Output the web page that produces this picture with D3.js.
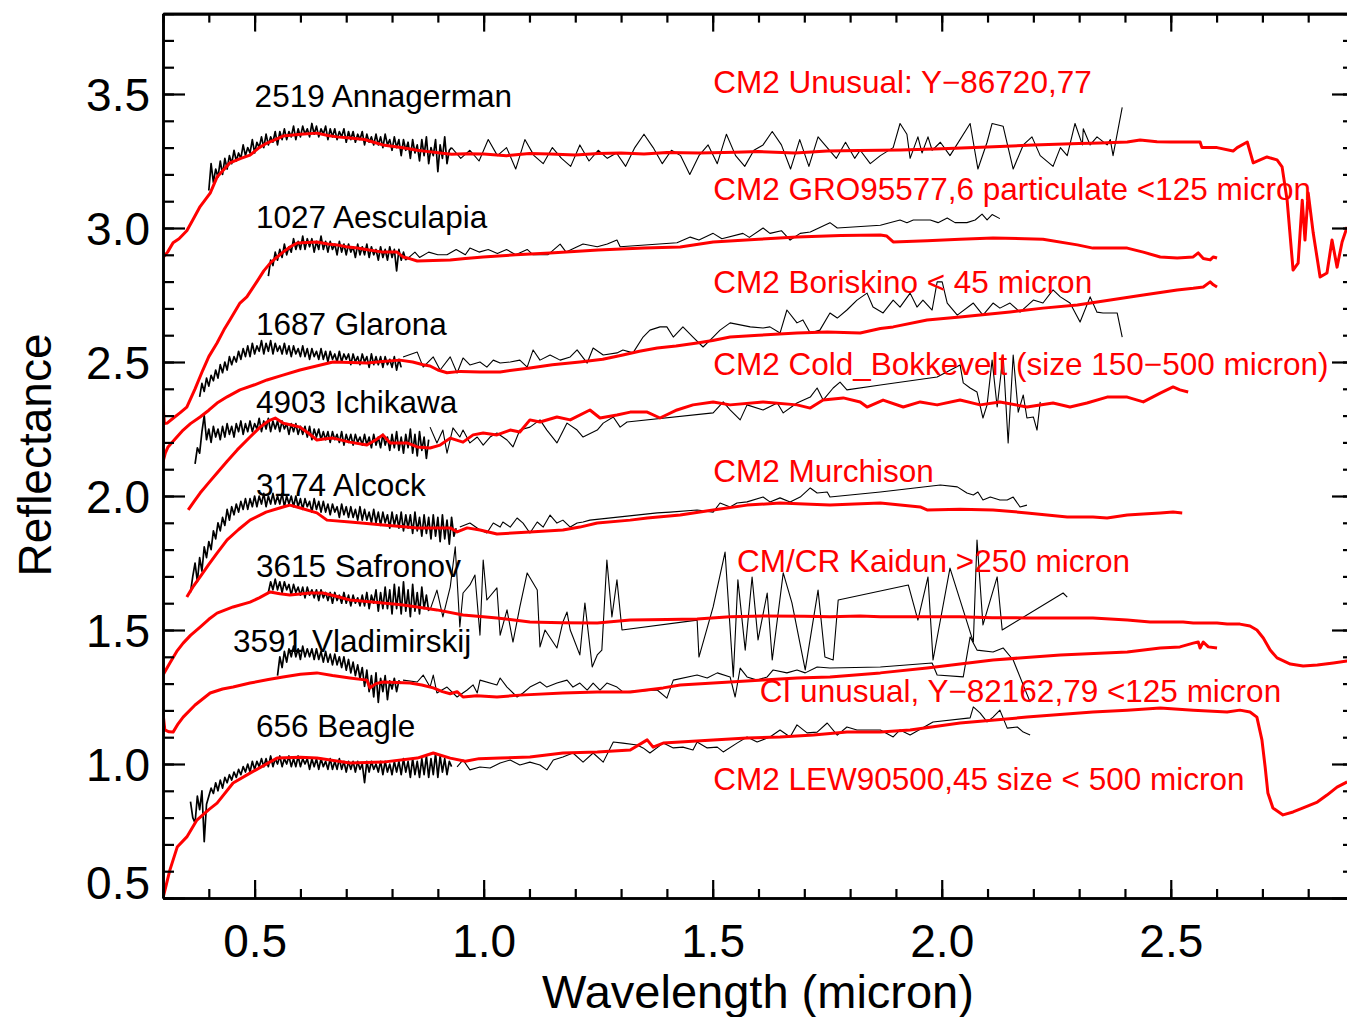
<!DOCTYPE html>
<html>

<head>
    <meta charset="UTF-8">
    <title>Asteroid and meteorite reflectance spectra</title>
    <style>
        body { margin: 0; background: #fff; }
        text { font-family: "Liberation Sans", Arial, Helvetica, sans-serif; }
    </style>
</head>

<body>
    <script src="https://d3js.org/d3.v7.min.js"></script>

    <svg width="1347" height="1017"></svg>

    <script>
        // ---- asteroid spectra (black) ----
        // visible part sampled every 0.005 micron from its start wavelength,
        // infrared part as [wavelength, reflectance] pairs
        const visStep = 0.005;

        const annagermanVisStart = 0.40;
        const annagermanVis = [3.14, 3.24, 3.17, 3.22, 3.19, 3.25, 3.20, 3.26, 3.22, 3.27, 3.24, 3.29, 3.25, 3.28, 3.26, 3.31, 3.27, 3.30, 3.28, 3.33,
            3.28, 3.32, 3.30, 3.34, 3.30, 3.35, 3.31, 3.34, 3.32, 3.36, 3.31, 3.36, 3.33, 3.37, 3.33, 3.36, 3.34, 3.38, 3.33, 3.37,
            3.34, 3.38, 3.35, 3.37, 3.34, 3.39, 3.35, 3.38, 3.34, 3.37, 3.35, 3.38, 3.33, 3.37, 3.34, 3.37, 3.33, 3.36, 3.34, 3.37,
            3.32, 3.36, 3.33, 3.36, 3.32, 3.35, 3.33, 3.36, 3.31, 3.35, 3.32, 3.34, 3.31, 3.35, 3.31, 3.34, 3.30, 3.35, 3.31, 3.33,
            3.29, 3.34, 3.30, 3.33, 3.27, 3.33, 3.29, 3.32, 3.26, 3.33, 3.28, 3.31, 3.25, 3.33, 3.27, 3.34, 3.24, 3.30, 3.27, 3.33,
            3.21, 3.31, 3.26, 3.34, 3.24, 3.29, 3.30];
        const annagermanIR = [[0.93, 3.30], [0.95, 3.26], [0.97, 3.29], [0.99, 3.25], [1.01, 3.33], [1.03, 3.27], [1.05, 3.30], [1.07, 3.22],
            [1.09, 3.33], [1.11, 3.27], [1.13, 3.24], [1.15, 3.30], [1.17, 3.26], [1.19, 3.23], [1.21, 3.31], [1.23, 3.25], [1.25, 3.29],
            [1.27, 3.26], [1.29, 3.28], [1.31, 3.23], [1.33, 3.30], [1.35, 3.35], [1.37, 3.30], [1.39, 3.24], [1.41, 3.29], [1.43, 3.27],
            [1.45, 3.20], [1.47, 3.27], [1.49, 3.31], [1.51, 3.24], [1.53, 3.35], [1.55, 3.27], [1.57, 3.23], [1.59, 3.29], [1.61, 3.31],
            [1.63, 3.36], [1.65, 3.31], [1.67, 3.22], [1.69, 3.33], [1.71, 3.23], [1.73, 3.34], [1.75, 3.30], [1.77, 3.26], [1.79, 3.32],
            [1.81, 3.26], [1.822, 3.29], [1.844, 3.24], [1.866, 3.27], [1.894, 3.30], [1.909, 3.39], [1.924, 3.35], [1.931, 3.26],
            [1.948, 3.34], [1.957, 3.28], [1.970, 3.34], [1.979, 3.29], [1.997, 3.32], [2.018, 3.27], [2.062, 3.39], [2.079, 3.22],
            [2.099, 3.32], [2.110, 3.39], [2.134, 3.38], [2.156, 3.22], [2.178, 3.31], [2.197, 3.34], [2.215, 3.27], [2.243, 3.23],
            [2.259, 3.30], [2.274, 3.27], [2.291, 3.39], [2.307, 3.31], [2.309, 3.37], [2.324, 3.31], [2.339, 3.34], [2.361, 3.31],
            [2.368, 3.33], [2.374, 3.27], [2.394, 3.45]];

        const aesculapiaVisStart = 0.53;
        const aesculapiaVis = [2.82, 2.88, 2.86, 2.91, 2.88, 2.92, 2.89, 2.94, 2.90, 2.93, 2.91, 2.96, 2.92, 2.95, 2.92, 2.97, 2.92, 2.96, 2.93, 2.96,
            2.91, 2.95, 2.92, 2.97, 2.92, 2.95, 2.91, 2.95, 2.92, 2.94, 2.90, 2.95, 2.91, 2.94, 2.90, 2.94, 2.91, 2.93, 2.89, 2.94,
            2.90, 2.93, 2.90, 2.94, 2.89, 2.93, 2.90, 2.92, 2.88, 2.93, 2.89, 2.92, 2.88, 2.93, 2.89, 2.92, 2.84, 2.92, 2.88, 2.91,
            2.88];
        const aesculapiaIR = [[0.83, 2.88], [0.85, 2.91], [0.86, 2.89], [0.88, 2.91], [0.90, 2.90], [0.92, 2.90], [0.94, 2.92], [0.96, 2.90],
            [0.97, 2.925], [0.99, 2.91], [1.01, 2.92], [1.03, 2.905], [1.05, 2.92], [1.07, 2.90], [1.095, 2.92], [1.108, 2.90], [1.14, 2.90],
            [1.167, 2.94], [1.18, 2.91], [1.217, 2.94], [1.248, 2.93], [1.27, 2.94], [1.291, 2.955], [1.298, 2.93], [1.422, 2.945],
            [1.451, 2.966], [1.47, 2.955], [1.501, 2.98], [1.52, 2.96], [1.566, 2.98], [1.58, 2.965], [1.61, 3.0], [1.625, 2.98],
            [1.65, 2.99], [1.669, 2.955], [1.691, 2.98], [1.713, 2.985], [1.756, 3.02], [1.772, 3.0], [1.866, 3.01], [1.909, 3.03],
            [1.924, 3.02], [1.938, 3.03], [1.975, 3.03], [1.992, 3.02], [2.012, 3.037], [2.029, 3.02], [2.055, 3.02], [2.073, 3.03],
            [2.088, 3.052], [2.099, 3.03], [2.110, 3.05], [2.127, 3.035]];

        const glaronaVisStart = 0.38;
        const glaronaVis = [2.37, 2.42, 2.39, 2.44, 2.41, 2.45, 2.43, 2.47, 2.44, 2.49, 2.46, 2.50, 2.47, 2.52, 2.49, 2.52, 2.50, 2.54, 2.51, 2.55,
            2.52, 2.56, 2.52, 2.57, 2.53, 2.56, 2.54, 2.58, 2.53, 2.57, 2.54, 2.58, 2.53, 2.57, 2.54, 2.56, 2.53, 2.57, 2.53, 2.56,
            2.52, 2.56, 2.53, 2.55, 2.52, 2.56, 2.52, 2.55, 2.51, 2.55, 2.52, 2.54, 2.51, 2.55, 2.51, 2.54, 2.50, 2.54, 2.51, 2.53,
            2.50, 2.54, 2.50, 2.53, 2.51, 2.53, 2.49, 2.53, 2.50, 2.52, 2.49, 2.53, 2.50, 2.52, 2.48, 2.53, 2.49, 2.52, 2.49, 2.52,
            2.48, 2.52, 2.49, 2.51, 2.48, 2.52, 2.47, 2.51, 2.48];
        const glaronaIR = [[0.824, 2.519], [0.855, 2.537], [0.868, 2.481], [0.890, 2.519], [0.905, 2.470], [0.927, 2.519], [0.942, 2.459],
            [0.955, 2.515], [0.970, 2.489], [0.992, 2.500], [1.007, 2.481], [1.021, 2.507], [1.036, 2.496], [1.058, 2.500], [1.079, 2.507],
            [1.095, 2.481], [1.108, 2.545], [1.123, 2.507], [1.145, 2.526], [1.167, 2.507], [1.189, 2.519], [1.204, 2.545], [1.226, 2.496],
            [1.239, 2.552], [1.261, 2.526], [1.291, 2.534], [1.304, 2.545], [1.326, 2.534], [1.348, 2.593], [1.363, 2.619], [1.385, 2.631],
            [1.400, 2.631], [1.414, 2.593], [1.435, 2.631], [1.457, 2.593], [1.479, 2.556], [1.501, 2.593], [1.516, 2.619], [1.538, 2.646],
            [1.582, 2.631], [1.610, 2.627], [1.625, 2.631], [1.647, 2.608], [1.662, 2.694], [1.684, 2.646], [1.697, 2.657], [1.713, 2.608],
            [1.734, 2.619], [1.756, 2.683], [1.772, 2.664], [1.793, 2.694], [1.815, 2.731], [1.837, 2.757], [1.850, 2.705], [1.872, 2.683],
            [1.894, 2.731], [1.909, 2.705], [1.931, 2.757], [1.946, 2.705], [1.959, 2.731], [1.979, 2.694], [1.990, 2.799], [2.001, 2.799],
            [2.012, 2.720], [2.034, 2.675], [2.069, 2.720], [2.090, 2.675], [2.112, 2.720], [2.127, 2.701], [2.149, 2.720], [2.171, 2.686],
            [2.200, 2.731], [2.221, 2.720], [2.243, 2.769], [2.259, 2.743], [2.280, 2.720], [2.302, 2.649], [2.324, 2.743], [2.339, 2.686],
            [2.352, 2.683], [2.383, 2.683], [2.394, 2.593]];

        const ichikawaVisStart = 0.37;
        const ichikawaVis = [2.12, 2.18, 2.16, 2.24, 2.30, 2.21, 2.25, 2.20, 2.26, 2.22, 2.25, 2.21, 2.26, 2.22, 2.27, 2.23, 2.26, 2.22, 2.27, 2.24,
            2.28, 2.23, 2.27, 2.24, 2.28, 2.24, 2.27, 2.25, 2.29, 2.24, 2.28, 2.25, 2.29, 2.24, 2.28, 2.25, 2.28, 2.24, 2.28, 2.25,
            2.27, 2.23, 2.27, 2.24, 2.27, 2.23, 2.26, 2.23, 2.26, 2.22, 2.26, 2.21, 2.25, 2.22, 2.25, 2.21, 2.24, 2.21, 2.24, 2.20,
            2.24, 2.21, 2.23, 2.20, 2.24, 2.19, 2.23, 2.20, 2.23, 2.19, 2.23, 2.20, 2.22, 2.19, 2.23, 2.19, 2.22, 2.18, 2.23, 2.19,
            2.22, 2.18, 2.23, 2.19, 2.22, 2.17, 2.23, 2.18, 2.24, 2.17, 2.22, 2.16, 2.23, 2.18, 2.25, 2.16, 2.23, 2.15, 2.24, 2.17,
            2.22, 2.14, 2.21];
        const ichikawaIR = [[0.883, 2.257], [0.898, 2.198], [0.911, 2.246], [0.920, 2.160], [0.933, 2.254], [0.948, 2.220], [0.955, 2.246],
            [0.970, 2.198], [0.986, 2.220], [0.999, 2.190], [1.014, 2.220], [1.029, 2.235], [1.051, 2.209], [1.064, 2.183], [1.079, 2.246],
            [1.101, 2.257], [1.123, 2.284], [1.138, 2.246], [1.160, 2.198], [1.182, 2.272], [1.204, 2.246], [1.217, 2.220], [1.248, 2.246],
            [1.261, 2.272], [1.283, 2.295], [1.298, 2.257], [1.313, 2.276], [1.501, 2.310], [1.523, 2.351], [1.538, 2.321], [1.560, 2.284],
            [1.575, 2.340], [1.610, 2.321], [1.641, 2.347], [1.654, 2.310], [1.684, 2.347], [1.713, 2.369], [1.728, 2.403], [1.741, 2.358],
            [1.763, 2.403], [1.778, 2.425], [1.793, 2.396], [1.866, 2.414], [1.990, 2.444], [2.040, 2.489], [2.047, 2.422], [2.062, 2.403],
            [2.077, 2.388], [2.090, 2.291], [2.099, 2.340], [2.110, 2.507], [2.121, 2.332], [2.134, 2.526], [2.145, 2.198], [2.156, 2.526],
            [2.167, 2.313], [2.178, 2.377], [2.186, 2.291], [2.200, 2.295], [2.208, 2.246], [2.215, 2.351]];

        const alcockVisStart = 0.36;
        const alcockVis = [1.64, 1.70, 1.75, 1.68, 1.77, 1.72, 1.81, 1.77, 1.83, 1.80, 1.87, 1.84, 1.90, 1.87, 1.92, 1.89, 1.95, 1.91, 1.96, 1.93,
            1.97, 1.94, 1.98, 1.95, 1.99, 1.95, 1.99, 1.96, 2.00, 1.96, 2.00, 1.97, 2.01, 1.96, 2.00, 1.97, 2.01, 1.97, 2.00, 1.97,
            2.01, 1.96, 2.00, 1.97, 2.00, 1.96, 2.00, 1.96, 1.99, 1.95, 1.99, 1.96, 1.98, 1.94, 1.99, 1.95, 1.98, 1.94, 1.98, 1.94,
            1.97, 1.93, 1.97, 1.94, 1.96, 1.92, 1.97, 1.93, 1.96, 1.92, 1.96, 1.92, 1.95, 1.91, 1.96, 1.91, 1.95, 1.91, 1.94, 1.90,
            1.95, 1.90, 1.94, 1.89, 1.94, 1.90, 1.93, 1.88, 1.94, 1.89, 1.93, 1.88, 1.94, 1.87, 1.93, 1.88, 1.93, 1.86, 1.94, 1.87,
            1.92, 1.85, 1.93, 1.86, 1.92, 1.84, 1.93, 1.85, 1.92, 1.83, 1.93, 1.84, 1.91, 1.82, 1.92, 1.85, 1.88];
        const alcockIR = [[0.948, 1.884], [0.970, 1.899], [0.992, 1.873], [1.007, 1.862], [1.021, 1.899], [1.036, 1.884], [1.042, 1.903],
            [1.058, 1.884], [1.073, 1.918], [1.086, 1.899], [1.101, 1.862], [1.117, 1.903], [1.130, 1.884], [1.145, 1.929], [1.160, 1.899],
            [1.173, 1.910], [1.189, 1.884], [1.204, 1.899], [1.217, 1.903], [1.232, 1.910], [1.379, 1.937], [1.407, 1.940], [1.466, 1.948],
            [1.501, 1.940], [1.516, 1.974], [1.538, 1.959], [1.553, 1.974], [1.575, 1.978], [1.610, 1.996], [1.625, 1.978], [1.647, 1.993],
            [1.669, 1.978], [1.691, 1.996], [1.713, 2.030], [1.728, 2.011], [1.750, 2.015], [1.756, 1.996], [1.866, 2.015], [1.997, 2.041],
            [2.034, 2.034], [2.055, 2.011], [2.069, 2.004], [2.079, 2.015], [2.090, 1.985], [2.106, 1.996], [2.127, 1.985], [2.143, 1.985],
            [2.156, 1.996], [2.171, 1.959], [2.186, 1.966]];

        const safronovVisStart = 0.53;
        const safronovVis = [1.64, 1.68, 1.65, 1.69, 1.65, 1.68, 1.64, 1.68, 1.65, 1.67, 1.63, 1.67, 1.64, 1.66, 1.63, 1.66, 1.62, 1.66, 1.63, 1.65,
            1.62, 1.65, 1.61, 1.65, 1.62, 1.64, 1.61, 1.64, 1.60, 1.64, 1.61, 1.63, 1.60, 1.64, 1.60, 1.63, 1.59, 1.63, 1.60, 1.62,
            1.59, 1.63, 1.59, 1.64, 1.58, 1.63, 1.60, 1.65, 1.57, 1.64, 1.58, 1.66, 1.58, 1.65, 1.56, 1.67, 1.58, 1.66, 1.56, 1.68,
            1.57, 1.65, 1.55, 1.67, 1.57, 1.64, 1.56, 1.66, 1.58, 1.63, 1.57];
        const safronovIR = [[0.883, 1.575], [0.898, 1.649], [0.911, 1.549], [0.927, 1.660], [0.938, 1.810], [0.948, 1.511], [0.955, 1.638],
            [0.970, 1.668], [0.981, 1.705], [0.992, 1.481], [0.999, 1.761], [1.007, 1.612], [1.029, 1.657], [1.036, 1.481], [1.051, 1.575],
            [1.064, 1.455], [1.079, 1.586], [1.095, 1.713], [1.117, 1.649], [1.123, 1.437], [1.134, 1.500], [1.160, 1.433], [1.173, 1.530],
            [1.182, 1.567], [1.189, 1.500], [1.195, 1.474], [1.210, 1.407], [1.221, 1.601], [1.237, 1.362], [1.248, 1.407], [1.258, 1.425],
            [1.269, 1.761], [1.280, 1.549], [1.291, 1.687], [1.302, 1.500], [1.466, 1.537], [1.470, 1.399], [1.501, 1.586], [1.527, 1.791],
            [1.545, 1.325], [1.555, 1.687], [1.571, 1.425], [1.586, 1.698], [1.599, 1.463], [1.619, 1.638], [1.630, 1.388], [1.654, 1.713],
            [1.673, 1.601], [1.702, 1.351], [1.730, 1.649], [1.745, 1.399], [1.763, 1.388], [1.774, 1.612], [1.927, 1.668], [1.948, 1.537],
            [1.970, 1.698], [1.981, 1.388], [2.018, 1.731], [2.069, 1.455], [2.077, 1.836], [2.090, 1.519], [2.121, 1.698], [2.132, 1.500],
            [2.265, 1.638], [2.274, 1.623]];

        const vladimirskijVisStart = 0.55;
        const vladimirskijVis = [1.33, 1.40, 1.36, 1.42, 1.38, 1.43, 1.40, 1.44, 1.40, 1.43, 1.39, 1.44, 1.40, 1.43, 1.40, 1.43, 1.39, 1.43, 1.39, 1.42,
            1.38, 1.42, 1.38, 1.41, 1.37, 1.41, 1.37, 1.40, 1.36, 1.40, 1.35, 1.39, 1.34, 1.38, 1.33, 1.37, 1.32, 1.36, 1.29, 1.35,
            1.27, 1.33, 1.25, 1.34, 1.23, 1.32, 1.27, 1.33, 1.24, 1.31, 1.28, 1.32, 1.27, 1.31, 1.30];
        const vladimirskijIR = [[0.824, 1.313], [0.855, 1.306], [0.868, 1.332], [0.883, 1.287], [0.890, 1.332], [0.898, 1.265], [0.920, 1.287],
            [0.942, 1.250], [0.964, 1.276], [0.977, 1.295], [0.986, 1.265], [0.992, 1.313], [1.029, 1.295], [1.036, 1.321], [1.051, 1.287],
            [1.073, 1.250], [1.086, 1.265], [1.101, 1.287], [1.123, 1.306], [1.138, 1.287], [1.160, 1.302], [1.182, 1.313], [1.195, 1.287],
            [1.210, 1.302], [1.226, 1.276], [1.239, 1.302], [1.254, 1.276], [1.269, 1.302], [1.291, 1.287], [1.304, 1.269], [1.379, 1.276],
            [1.400, 1.246], [1.414, 1.313], [1.466, 1.332], [1.488, 1.321], [1.510, 1.340], [1.538, 1.325], [1.549, 1.250], [1.560, 1.358],
            [1.575, 1.325], [1.597, 1.313], [1.619, 1.325], [1.632, 1.351], [1.662, 1.340], [1.684, 1.351], [1.702, 1.340], [1.728, 1.362],
            [1.756, 1.358], [1.866, 1.362], [1.979, 1.377], [1.990, 1.332], [2.047, 1.325], [2.062, 1.474], [2.077, 1.425], [2.112, 1.418],
            [2.134, 1.433], [2.156, 1.388], [2.193, 1.231]];

        const beagleVisStart = 0.36;
        const beagleVis = [0.86, 0.80, 0.78, 0.88, 0.83, 0.90, 0.71, 0.85, 0.88, 0.91, 0.89, 0.93, 0.90, 0.94, 0.91, 0.95, 0.93, 0.96, 0.94, 0.97,
            0.95, 0.98, 0.96, 0.99, 0.97, 1.00, 0.97, 1.01, 0.98, 1.01, 0.99, 1.02, 0.99, 1.02, 0.99, 1.03, 0.99, 1.02, 1.00, 1.03,
            0.99, 1.02, 1.00, 1.03, 0.99, 1.02, 0.99, 1.03, 0.99, 1.02, 1.00, 1.02, 0.98, 1.02, 0.99, 1.02, 0.98, 1.02, 0.99, 1.01,
            0.98, 1.02, 0.98, 1.01, 0.98, 1.02, 0.98, 1.01, 0.97, 1.01, 0.98, 1.01, 0.97, 1.01, 0.98, 1.00, 0.93, 1.01, 0.97, 1.01,
            0.98, 1.00, 0.97, 1.01, 0.96, 1.01, 0.97, 1.00, 0.96, 1.01, 0.97, 1.01, 0.96, 1.02, 0.97, 1.01, 0.95, 1.02, 0.96, 1.01,
            0.95, 1.02, 0.96, 1.03, 0.95, 1.02, 0.96, 1.04, 0.95, 1.03, 0.97, 1.02, 0.96, 1.01, 0.99];
        const beagleIR = [[0.942, 0.989], [0.955, 1.015], [0.970, 0.978], [0.992, 0.989], [1.014, 0.985], [1.036, 1.004], [1.058, 1.015],
            [1.079, 0.996], [1.101, 1.007], [1.123, 0.996], [1.138, 0.978], [1.152, 1.015], [1.173, 1.026], [1.195, 1.041], [1.217, 1.007],
            [1.239, 1.041], [1.261, 1.007], [1.283, 1.082], [1.304, 1.078], [1.335, 1.071], [1.348, 1.060], [1.363, 1.041], [1.392, 1.078],
            [1.414, 1.060], [1.435, 1.063], [1.457, 1.052], [1.466, 1.082], [1.488, 1.060], [1.510, 1.063], [1.523, 1.045], [1.553, 1.078],
            [1.575, 1.101], [1.597, 1.082], [1.625, 1.101], [1.647, 1.127], [1.669, 1.101], [1.684, 1.146], [1.706, 1.116], [1.728, 1.119],
            [1.750, 1.153], [1.772, 1.108], [1.793, 1.138], [1.815, 1.127], [1.866, 1.127], [1.894, 1.101], [1.909, 1.127], [1.931, 1.108],
            [1.981, 1.157], [2.062, 1.172], [2.069, 1.213], [2.084, 1.190], [2.099, 1.157], [2.112, 1.175], [2.127, 1.201], [2.143, 1.134],
            [2.165, 1.138], [2.178, 1.119], [2.193, 1.108]];

        // ---- meteorite spectra (red), [wavelength, reflectance] ----
        const y86720 = [[0.300, 2.89], [0.31, 2.91], [0.322, 2.945], [0.335, 2.96], [0.352, 2.99], [0.365, 3.03], [0.381, 3.08], [0.403, 3.13],
            [0.418, 3.19], [0.446, 3.243], [0.47, 3.26], [0.49, 3.272], [0.51, 3.30], [0.527, 3.317], [0.545, 3.33], [0.562, 3.343],
            [0.60, 3.35], [0.636, 3.354], [0.66, 3.345], [0.68, 3.34], [0.708, 3.336], [0.74, 3.33], [0.76, 3.32], [0.78, 3.31], [0.80, 3.305],
            [0.82, 3.30], [0.84, 3.295], [0.855, 3.29], [0.88, 3.285], [0.905, 3.28], [0.93, 3.275], [0.96, 3.277], [1.0, 3.276], [1.05, 3.27],
            [1.10, 3.278], [1.145, 3.276], [1.2, 3.272], [1.25, 3.278], [1.3, 3.28], [1.35, 3.276], [1.4, 3.282], [1.47, 3.28], [1.55, 3.283],
            [1.6, 3.285], [1.68, 3.28], [1.75, 3.287], [1.82, 3.289], [1.91, 3.291], [2.0, 3.296], [2.1, 3.302], [2.2, 3.31], [2.3, 3.315],
            [2.346, 3.317], [2.405, 3.321], [2.433, 3.328], [2.47, 3.322], [2.5, 3.321], [2.564, 3.321], [2.568, 3.30], [2.601, 3.30],
            [2.636, 3.287], [2.645, 3.30], [2.667, 3.321], [2.680, 3.243], [2.710, 3.265], [2.732, 3.254], [2.743, 3.228], [2.754, 3.104],
            [2.767, 2.843], [2.778, 2.869], [2.787, 3.104], [2.793, 2.955], [2.800, 3.131], [2.811, 2.981], [2.826, 2.817], [2.841, 2.832],
            [2.852, 2.955], [2.863, 2.854], [2.874, 2.948], [2.885, 3.004]];

        const gro95577 = [[0.300, 2.34], [0.303, 2.27], [0.309, 2.272], [0.322, 2.29], [0.337, 2.31], [0.352, 2.332], [0.37, 2.40], [0.387, 2.47],
            [0.40, 2.52], [0.418, 2.571], [0.433, 2.62], [0.446, 2.657], [0.468, 2.72], [0.483, 2.743], [0.505, 2.80], [0.52, 2.84],
            [0.534, 2.869], [0.548, 2.89], [0.562, 2.91], [0.578, 2.93], [0.593, 2.944], [0.615, 2.946], [0.636, 2.948], [0.66, 2.94],
            [0.68, 2.937], [0.70, 2.93], [0.724, 2.925], [0.75, 2.918], [0.78, 2.91], [0.811, 2.91], [0.824, 2.892], [0.84, 2.885],
            [0.855, 2.877], [0.89, 2.879], [0.927, 2.881], [0.96, 2.886], [0.999, 2.892], [1.07, 2.90], [1.145, 2.907], [1.25, 2.918],
            [1.35, 2.925], [1.429, 2.929], [1.501, 2.948], [1.6, 2.958], [1.684, 2.966], [1.78, 2.972], [1.866, 2.974], [1.88, 2.97],
            [1.894, 2.948], [1.968, 2.952], [2.04, 2.958], [2.112, 2.963], [2.221, 2.958], [2.296, 2.937], [2.330, 2.925], [2.405, 2.925],
            [2.440, 2.910], [2.477, 2.892], [2.514, 2.888], [2.549, 2.892], [2.560, 2.907], [2.571, 2.886], [2.586, 2.881], [2.593, 2.892],
            [2.601, 2.888]];

        const boriskino = [[0.300, 2.127], [0.305, 2.16], [0.311, 2.183], [0.325, 2.21], [0.344, 2.246], [0.36, 2.27], [0.381, 2.295],
            [0.40, 2.32], [0.418, 2.347], [0.44, 2.37], [0.468, 2.396], [0.50, 2.415], [0.527, 2.433], [0.56, 2.45], [0.599, 2.470],
            [0.635, 2.485], [0.671, 2.500], [0.71, 2.498], [0.745, 2.496], [0.78, 2.502], [0.817, 2.507], [0.845, 2.50], [0.868, 2.49],
            [0.883, 2.485], [0.90, 2.47], [0.920, 2.46], [0.95, 2.465], [0.992, 2.463], [1.036, 2.463], [1.101, 2.478], [1.15, 2.49],
            [1.210, 2.50], [1.26, 2.51], [1.304, 2.526], [1.34, 2.54], [1.379, 2.552], [1.42, 2.56], [1.466, 2.571], [1.50, 2.58],
            [1.538, 2.593], [1.60, 2.60], [1.684, 2.608], [1.75, 2.612], [1.822, 2.608], [1.866, 2.625], [1.894, 2.631], [1.968, 2.657],
            [2.040, 2.668], [2.149, 2.687], [2.221, 2.701], [2.296, 2.713], [2.368, 2.731], [2.440, 2.75], [2.514, 2.769], [2.549, 2.775],
            [2.571, 2.780], [2.586, 2.799], [2.593, 2.788], [2.601, 2.78]];

        const coldBokkeveld = [[0.355, 1.948], [0.368, 1.98], [0.381, 2.011], [0.40, 2.05], [0.418, 2.086], [0.44, 2.13], [0.462, 2.172],
            [0.49, 2.22], [0.512, 2.257], [0.53, 2.28], [0.545, 2.291], [0.562, 2.272], [0.58, 2.265], [0.599, 2.257], [0.617, 2.235],
            [0.636, 2.209], [0.655, 2.214], [0.671, 2.216], [0.708, 2.201], [0.745, 2.190], [0.765, 2.21], [0.780, 2.228], [0.796, 2.198],
            [0.833, 2.198], [0.855, 2.183], [0.883, 2.179], [0.905, 2.19], [0.927, 2.216], [0.955, 2.201], [0.977, 2.228], [0.999, 2.235],
            [1.029, 2.228], [1.058, 2.246], [1.079, 2.239], [1.101, 2.284], [1.123, 2.276], [1.160, 2.295], [1.189, 2.284], [1.232, 2.321],
            [1.254, 2.291], [1.291, 2.302], [1.320, 2.313], [1.357, 2.313], [1.385, 2.291], [1.422, 2.321], [1.457, 2.340], [1.501, 2.351],
            [1.538, 2.340], [1.610, 2.351], [1.684, 2.340], [1.713, 2.328], [1.741, 2.358], [1.785, 2.366], [1.822, 2.351], [1.837, 2.332],
            [1.872, 2.358], [1.916, 2.332], [1.953, 2.351], [1.990, 2.340], [2.040, 2.358], [2.084, 2.340], [2.127, 2.351], [2.186, 2.332],
            [2.243, 2.347], [2.280, 2.332], [2.317, 2.347], [2.361, 2.369], [2.405, 2.369], [2.440, 2.351], [2.477, 2.384], [2.505, 2.407],
            [2.520, 2.396], [2.538, 2.388]];

        const murchison = [[0.352, 1.623], [0.365, 1.66], [0.381, 1.698], [0.40, 1.745], [0.418, 1.787], [0.440, 1.836], [0.465, 1.875],
            [0.490, 1.910], [0.525, 1.94], [0.562, 1.959], [0.577, 1.966], [0.60, 1.955], [0.636, 1.937], [0.658, 1.910], [0.708, 1.903],
            [0.745, 1.897], [0.780, 1.892], [0.82, 1.886], [0.855, 1.881], [0.927, 1.881], [0.942, 1.866], [0.964, 1.881], [0.992, 1.873],
            [1.029, 1.858], [1.101, 1.866], [1.173, 1.873], [1.210, 1.884], [1.248, 1.899], [1.320, 1.910], [1.357, 1.918], [1.429, 1.929],
            [1.501, 1.948], [1.575, 1.966], [1.647, 1.974], [1.70, 1.97], [1.756, 1.966], [1.81, 1.97], [1.866, 1.974], [1.953, 1.959],
            [1.968, 1.948], [2.04, 1.951], [2.112, 1.948], [2.186, 1.937], [2.274, 1.922], [2.330, 1.922], [2.361, 1.918], [2.405, 1.929],
            [2.440, 1.933], [2.477, 1.937], [2.505, 1.940], [2.525, 1.937]];

        const kaidun = [[0.30, 1.332], [0.315, 1.377], [0.33, 1.42], [0.344, 1.451], [0.36, 1.48], [0.381, 1.511], [0.40, 1.54], [0.418, 1.563],
            [0.453, 1.586], [0.490, 1.604], [0.51, 1.62], [0.534, 1.642], [0.555, 1.635], [0.577, 1.631], [0.621, 1.638], [0.649, 1.638],
            [0.68, 1.625], [0.708, 1.612], [0.745, 1.606], [0.780, 1.601], [0.82, 1.594], [0.855, 1.586], [0.898, 1.575], [0.955, 1.556],
            [0.999, 1.549], [1.029, 1.545], [1.101, 1.530], [1.17, 1.527], [1.248, 1.526], [1.320, 1.537], [1.40, 1.539], [1.466, 1.541],
            [1.538, 1.549], [1.610, 1.552], [1.70, 1.551], [1.756, 1.549], [1.822, 1.552], [1.866, 1.549], [1.931, 1.549], [2.040, 1.549],
            [2.11, 1.546], [2.186, 1.545], [2.26, 1.545], [2.330, 1.545], [2.405, 1.537], [2.455, 1.530], [2.527, 1.530], [2.549, 1.526],
            [2.601, 1.526], [2.623, 1.522], [2.651, 1.522], [2.673, 1.515], [2.688, 1.500], [2.702, 1.470], [2.717, 1.425], [2.732, 1.396],
            [2.761, 1.373], [2.789, 1.366], [2.820, 1.369], [2.855, 1.377], [2.885, 1.384]];

        const y82162 = [[0.30, 1.190], [0.304, 1.127], [0.313, 1.12], [0.322, 1.119], [0.333, 1.15], [0.344, 1.175], [0.37, 1.22], [0.403, 1.265],
            [0.43, 1.28], [0.453, 1.287], [0.490, 1.302], [0.53, 1.315], [0.562, 1.325], [0.60, 1.335], [0.636, 1.340], [0.67, 1.33],
            [0.708, 1.321], [0.745, 1.313], [0.752, 1.284], [0.765, 1.30], [0.780, 1.306], [0.81, 1.304], [0.839, 1.302], [0.865, 1.295],
            [0.890, 1.284], [0.91, 1.27], [0.927, 1.262], [0.942, 1.27], [0.955, 1.25], [0.985, 1.255], [1.029, 1.250], [1.079, 1.257],
            [1.173, 1.265], [1.248, 1.269], [1.320, 1.269], [1.392, 1.284], [1.429, 1.295], [1.538, 1.306], [1.610, 1.313], [1.684, 1.321],
            [1.756, 1.325], [1.866, 1.340], [1.968, 1.358], [2.112, 1.388], [2.259, 1.407], [2.405, 1.418], [2.477, 1.433], [2.520, 1.437],
            [2.549, 1.451], [2.560, 1.455], [2.564, 1.433], [2.571, 1.455], [2.582, 1.437], [2.601, 1.433]];

        const lew90500 = [[0.30, 0.50], [0.315, 0.604], [0.331, 0.690], [0.352, 0.728], [0.374, 0.791], [0.40, 0.83], [0.418, 0.854],
            [0.453, 0.929], [0.490, 0.966], [0.549, 1.022], [0.60, 1.025], [0.636, 1.022], [0.708, 1.004], [0.780, 1.007], [0.855, 1.022],
            [0.870, 1.03], [0.890, 1.041], [0.927, 1.022], [0.96, 1.01], [0.99, 1.02], [1.036, 1.022], [1.101, 1.026], [1.173, 1.041],
            [1.248, 1.045], [1.320, 1.052], [1.357, 1.090], [1.370, 1.063], [1.392, 1.078], [1.429, 1.082], [1.501, 1.090], [1.575, 1.097],
            [1.647, 1.101], [1.720, 1.108], [1.793, 1.119], [1.866, 1.119], [1.931, 1.127], [2.040, 1.153], [2.186, 1.175], [2.330, 1.194],
            [2.405, 1.201], [2.477, 1.209], [2.549, 1.201], [2.623, 1.194], [2.651, 1.201], [2.673, 1.194], [2.688, 1.175], [2.699, 1.090],
            [2.706, 0.989], [2.712, 0.892], [2.723, 0.836], [2.745, 0.810], [2.767, 0.821], [2.789, 0.836], [2.820, 0.858], [2.841, 0.884],
            [2.863, 0.914], [2.885, 0.933]];

        const asteroidNames = ["2519 Annagerman", "1027 Aesculapia", "1687 Glarona", "4903 Ichikawa",
            "3174 Alcock", "3615 Safronov", "3591 Vladimirskij", "656 Beagle"];
        const meteoriteNames = ["CM2 Unusual: Y\u221286720,77", "CM2 GRO95577,6 particulate <125 micron",
            "CM2 Boriskino < 45 micron", "CM2 Cold_Bokkevelt (size 150\u2212500 micron)", "CM2 Murchison",
            "CM/CR Kaidun >250 micron", "CI unusual, Y\u221282162,79 <125 micron", "CM2 LEW90500,45 size < 500 micron"];

        const xTicks = [0.5, 1.0, 1.5, 2.0, 2.5];
        const yTicks = [0.5, 1.0, 1.5, 2.0, 2.5, 3.0, 3.5];

        // table of spectra built from the arrays above
        let asteroids = [
            [annagermanVisStart, annagermanVis, annagermanIR],
            [aesculapiaVisStart, aesculapiaVis, aesculapiaIR],
            [glaronaVisStart, glaronaVis, glaronaIR],
            [ichikawaVisStart, ichikawaVis, ichikawaIR],
            [alcockVisStart, alcockVis, alcockIR],
            [safronovVisStart, safronovVis, safronovIR],
            [vladimirskijVisStart, vladimirskijVis, vladimirskijIR],
            [beagleVisStart, beagleVis, beagleIR]
        ].map((d, i) => ({
            name: asteroidNames[i],
            vis: d[1].map((v, j) => [d[0] + j * visStep, v]),
            ir: d[2]
        }));
        let meteorites = [y86720, gro95577, boriskino, coldBokkeveld, murchison, kaidun, y82162, lew90500]
            .map((d, i) => ({ name: meteoriteNames[i], data: d }));

        // ---- layout ----
        let svg = d3.select("svg");
        let plotLeft = 163, plotRight = 1354, plotTop = 13.6, plotBottom = 898;

        let x = d3.scaleLinear().domain([0.3, 2.9]).range([plotLeft, plotRight]);
        let y = d3.scaleLinear().domain([0.5, 3.8]).range([plotBottom, plotTop]);

        let line = d3.line().x(d => x(d[0])).y(d => y(d[1]));

        svg.append("defs").append("clipPath").attr("id", "plot")
            .append("rect")
            .attr("x", plotLeft).attr("y", plotTop)
            .attr("width", plotRight - plotLeft).attr("height", plotBottom - plotTop);

        let plot = svg.append("g").attr("clip-path", "url(#plot)");

        // black asteroid spectra
        plot.selectAll("path.vis")
            .data(asteroids).enter().append("path")
            .attr("class", "vis")
            .attr("d", d => line(d.vis))
            .attr("fill", "none").attr("stroke", "#000")
            .attr("stroke-width", 1.7).attr("stroke-linejoin", "round");

        plot.selectAll("path.ir")
            .data(asteroids).enter().append("path")
            .attr("class", "ir")
            .attr("d", d => line(d.ir))
            .attr("fill", "none").attr("stroke", "#000")
            .attr("stroke-width", 1.1).attr("stroke-linejoin", "round");

        // red meteorite spectra on top
        plot.selectAll("path.met")
            .data(meteorites).enter().append("path")
            .attr("class", "met")
            .attr("d", d => line(d.data))
            .attr("fill", "none").attr("stroke", "#ff0000")
            .attr("stroke-width", 3).attr("stroke-linejoin", "round");

        // labels, placed in data units
        let asteroidLabelAt = [[0.50, 3.451], [0.503, 3.0], [0.503, 2.601], [0.503, 2.310],
            [0.503, 2.0], [0.503, 1.698], [0.453, 1.418], [0.503, 1.101]];
        let meteoriteLabelAt = [[1.501, 3.504], [1.501, 3.104], [1.501, 2.757], [1.501, 2.451],
            [1.501, 2.052], [1.553, 1.716], [1.603, 1.231], [1.501, 0.903]];

        svg.append("g").selectAll("text")
            .data(asteroids).enter().append("text")
            .attr("x", (d, i) => x(asteroidLabelAt[i][0]))
            .attr("y", (d, i) => y(asteroidLabelAt[i][1]))
            .attr("font-size", 31.5).attr("fill", "#000")
            .text(d => d.name);

        svg.append("g").selectAll("text")
            .data(meteorites).enter().append("text")
            .attr("x", (d, i) => x(meteoriteLabelAt[i][0]))
            .attr("y", (d, i) => y(meteoriteLabelAt[i][1]))
            .attr("font-size", 31.5).attr("fill", "#ff0000")
            .text(d => d.name);

        // ---- axes: inward ticks on all four sides ----
        let xMinor = d3.range(3, 30).map(i => i / 10);
        let yMinor = d3.range(5, 39).map(i => i / 10);

        function styleAxis(g) {
            g.select(".domain").attr("stroke-width", 2.6);
            g.selectAll(".tick line").attr("stroke-width", 2.2);
        }

        svg.append("g").attr("transform", `translate(0,${plotBottom})`)
            .call(d3.axisBottom(x).tickValues(xMinor).tickSize(-9).tickSizeOuter(0).tickFormat(""))
            .call(styleAxis);
        let xAxis = svg.append("g").attr("transform", `translate(0,${plotBottom})`)
            .call(d3.axisBottom(x).tickValues(xTicks).tickSize(-18).tickSizeOuter(0)
                .tickPadding(26).tickFormat(d3.format(".1f")))
            .call(styleAxis);
        xAxis.selectAll("text").attr("font-size", 46).attr("fill", "#000")
            .attr("font-family", '"Liberation Sans", Arial, sans-serif');

        svg.append("g").attr("transform", `translate(0,${plotTop})`)
            .call(d3.axisTop(x).tickValues(xMinor).tickSize(-9).tickSizeOuter(0).tickFormat(""))
            .call(styleAxis);
        svg.append("g").attr("transform", `translate(0,${plotTop})`)
            .call(d3.axisTop(x).tickValues(xTicks).tickSize(-18).tickSizeOuter(0).tickFormat(""))
            .call(styleAxis);

        svg.append("g").attr("transform", `translate(${plotLeft},0)`)
            .call(d3.axisLeft(y).tickValues(yMinor).tickSize(-11).tickSizeOuter(0).tickFormat(""))
            .call(styleAxis);
        let yAxis = svg.append("g").attr("transform", `translate(${plotLeft},0)`)
            .call(d3.axisLeft(y).tickValues(yTicks).tickSize(-22).tickSizeOuter(0)
                .tickPadding(13).tickFormat(d3.format(".1f")))
            .call(styleAxis);
        yAxis.selectAll("text").attr("font-size", 46).attr("fill", "#000")
            .attr("font-family", '"Liberation Sans", Arial, sans-serif')
            .attr("dy", d => d === 0.5 ? "0em" : "0.36em");

        svg.append("g").attr("transform", `translate(${plotRight},0)`)
            .call(d3.axisRight(y).tickValues(yMinor).tickSize(-11).tickSizeOuter(0).tickFormat(""))
            .call(styleAxis);
        svg.append("g").attr("transform", `translate(${plotRight},0)`)
            .call(d3.axisRight(y).tickValues(yTicks).tickSize(-22).tickSizeOuter(0).tickFormat(""))
            .call(styleAxis);

        // axis titles
        svg.append("text")
            .attr("x", 758).attr("y", 1008)
            .attr("text-anchor", "middle").attr("font-size", 47)
            .text("Wavelength (micron)");

        svg.append("text")
            .attr("transform", "translate(51,455) rotate(-90)")
            .attr("text-anchor", "middle").attr("font-size", 46)
            .text("Reflectance");
    </script>
</body>

</html>
